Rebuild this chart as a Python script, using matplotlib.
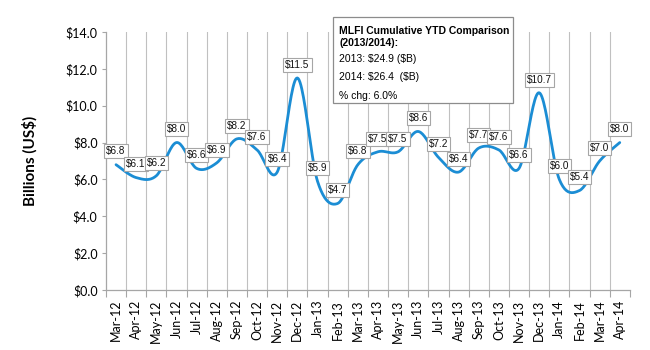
import numpy as np
import matplotlib
matplotlib.use("Agg")
from matplotlib import pyplot as plt
from matplotlib.patches import Rectangle

plt.rcParams["text.parse_math"] = False

months = ["Mar-12", "Apr-12", "May-12", "Jun-12", "Jul-12", "Aug-12", "Sep-12",
          "Oct-12", "Nov-12", "Dec-12", "Jan-13", "Feb-13", "Mar-13", "Apr-13",
          "May-13", "Jun-13", "Jul-13", "Aug-13", "Sep-13", "Oct-13", "Nov-13",
          "Dec-13", "Jan-14", "Feb-14", "Mar-14", "Apr-14"]
values = [6.8, 6.1, 6.2, 8.0, 6.6, 6.9, 8.2, 7.6, 6.4, 11.5, 5.9, 4.7, 6.8,
          7.5, 7.5, 8.6, 7.2, 6.4, 7.7, 7.6, 6.6, 10.7, 6.0, 5.4, 7.0, 8.0]
yticks = [0, 2, 4, 6, 8, 10, 12, 14]

box_title = "MLFI Cumulative YTD Comparison\n(2013/2014):"
box_lines = ["2013: $24.9 ($B)", "2014: $26.4  ($B)", "% chg: 6.0%"]


def smooth(x, y, n=24):
    # excel-like smoothed line: bezier with catmull-rom control points
    px = np.concatenate([[x[0]], x, [x[-1]]]).astype(float)
    py = np.concatenate([[y[0]], y, [y[-1]]]).astype(float)
    xs, ys = [], []
    t = np.linspace(0, 1, n)
    for i in range(1, len(px) - 2):
        x0, x1, x2, x3 = px[i - 1], px[i], px[i + 1], px[i + 2]
        y0, y1, y2, y3 = py[i - 1], py[i], py[i + 1], py[i + 2]
        cx1 = x1 + (x2 - x0) / 6.0
        cy1 = y1 + (y2 - y0) / 6.0
        cx2 = x2 - (x3 - x1) / 6.0
        cy2 = y2 - (y3 - y1) / 6.0
        bx = (1-t)**3*x1 + 3*(1-t)**2*t*cx1 + 3*(1-t)*t**2*cx2 + t**3*x2
        by = (1-t)**3*y1 + 3*(1-t)**2*t*cy1 + 3*(1-t)*t**2*cy2 + t**3*y2
        xs.extend(bx)
        ys.extend(by)
    return np.array(xs), np.array(ys)


fig = plt.figure(figsize=(6.5, 3.5), dpi=100)
ax = fig.add_axes([0.163, 0.171, 0.806, 0.738])

x = np.arange(len(values))
sx, sy = smooth(x, values)
ax.plot(sx, sy, color="#1b8dd4", lw=2.0, solid_capstyle="round", zorder=3)

for i, v in enumerate(values):
    ax.annotate("$%.1f" % v, (i, v), xytext=(0, 9.5), textcoords="offset points",
                ha="center", va="center", fontsize=7.2, family="Liberation Sans",
                color="#111111", zorder=4,
                bbox=dict(boxstyle="square,pad=0.2", fc="white", ec="#a6a6a6", lw=0.8))

ax.set_xlim(-0.5, len(values) - 0.5)
ax.set_ylim(0, 14)
ax.set_yticks(yticks)
ax.set_yticklabels(["$%.1f" % v for v in yticks], fontsize=9, family="Lato")
ax.set_xticks(x)
ax.set_xticklabels(months, rotation=90, fontsize=9, family="Lato")
ax.set_xticks(np.arange(-0.5, len(values) + 0.5, 1), minor=True)
ax.tick_params(axis="x", which="major", length=0, pad=7)
ax.tick_params(axis="x", which="minor", length=5, color="#a6a6a6", width=0.8)
ax.tick_params(axis="y", length=3, color="#a6a6a6", width=0.8, pad=3)

for gx in np.arange(0.5, len(values) - 1, 1):
    ax.axvline(gx, color="#c0c0c0", lw=0.8, zorder=1)

for s in ["top", "right"]:
    ax.spines[s].set_visible(False)
for s in ["left", "bottom"]:
    ax.spines[s].set_color("#a6a6a6")
    ax.spines[s].set_linewidth(0.9)

fig.text(0.046, 0.54, "Billions (US$)", rotation=90, ha="center", va="center",
         fontsize=11, fontweight="bold", family="Lato")

# info box over the top of the plot
fig.patches.append(Rectangle((0.512, 0.706), 0.277, 0.246, transform=fig.transFigure,
                             fc="white", ec="#8c8c8c", lw=0.9, zorder=5))
fig.text(0.522, 0.893, box_title, ha="left", va="center", fontsize=7.5,
         fontweight="bold", family="Liberation Sans", linespacing=1.25, zorder=6)
for j, line in enumerate(box_lines):
    fig.text(0.522, 0.831 - j * 0.052, line, ha="left", va="center", fontsize=7.5,
             family="Liberation Sans", zorder=6)

plt.savefig("out.png", dpi=100)
